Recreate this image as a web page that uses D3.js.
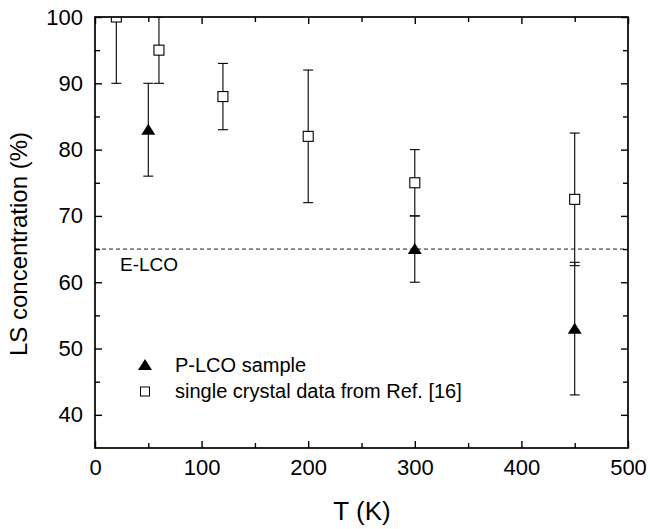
<!DOCTYPE html>
<html>
<head>
<meta charset="utf-8">
<script src="https://cdn.jsdelivr.net/npm/d3@7"></script>
<style>
  body { margin: 0; background: #fff; }
  svg text { font-family: "Liberation Sans", Arial, sans-serif; fill: #000; }
  .tick text { font-size: 22px; font-family: "Liberation Sans", Arial, sans-serif; }
</style>
</head>
<body>
<svg id="chart"></svg>
<script>
// P-LCO sample (filled triangles)
const plcoT = [50, 300, 450];
const plcoLS = [83, 65, 53];
const plcoLo = [76, 60, 43];
const plcoHi = [90, 70, 63];

// single crystal data from Ref. [16] (open squares)
const crystalT = [20, 60, 120, 200, 300, 450];
const crystalLS = [100, 95, 88, 82, 75, 72.5];
const crystalLo = [90, 90, 83, 72, 70, 62.5];
const crystalHi = [110, 100, 93, 92, 80, 82.5];

const elcoLevel = 65;
const xTicks = [0, 100, 200, 300, 400, 500];
const yTicks = [40, 50, 60, 70, 80, 90, 100];

const width = 650, height = 529;
const margin = { top: 17, right: 22, bottom: 81, left: 95 };
const innerW = width - margin.left - margin.right;
const innerH = height - margin.top - margin.bottom;

const svg = d3.select("#chart").attr("width", width).attr("height", height);
const g = svg.append("g").attr("transform", `translate(${margin.left},${margin.top})`);

const x = d3.scaleLinear().domain([0, 500]).range([0, innerW]);
const y = d3.scaleLinear().domain([35, 100]).range([innerH, 0]);

svg.append("defs").append("clipPath").attr("id", "plot")
  .append("rect").attr("width", innerW).attr("height", innerH);

// minor ticks
const xMinor = d3.range(50, 500, 100);
const yMinor = d3.range(45, 100, 10);

function axisStyle(sel) {
  sel.select(".domain").remove();
  sel.selectAll(".tick line").attr("stroke", "#000").attr("stroke-width", 1.4);
}

// bottom
g.append("g").attr("transform", `translate(0,${innerH})`)
  .call(d3.axisBottom(x).tickValues(xTicks).tickSizeInner(-7).tickSizeOuter(0).tickPadding(11))
  .call(axisStyle);
g.append("g").attr("transform", `translate(0,${innerH})`)
  .call(d3.axisBottom(x).tickValues(xMinor).tickSize(-5).tickFormat(""))
  .call(axisStyle);
// top
g.append("g")
  .call(d3.axisTop(x).tickValues(xTicks).tickSize(-7).tickFormat(""))
  .call(axisStyle);
g.append("g")
  .call(d3.axisTop(x).tickValues(xMinor).tickSize(-5).tickFormat(""))
  .call(axisStyle);
// left
g.append("g")
  .call(d3.axisLeft(y).tickValues(yTicks).tickSizeInner(-7).tickSizeOuter(0).tickPadding(12))
  .call(axisStyle);
g.append("g")
  .call(d3.axisLeft(y).tickValues(yMinor).tickSize(-5).tickFormat(""))
  .call(axisStyle);
// right
g.append("g").attr("transform", `translate(${innerW},0)`)
  .call(d3.axisRight(y).tickValues(yTicks).tickSize(-7).tickFormat(""))
  .call(axisStyle);
g.append("g").attr("transform", `translate(${innerW},0)`)
  .call(d3.axisRight(y).tickValues(yMinor).tickSize(-5).tickFormat(""))
  .call(axisStyle);

// E-LCO dashed reference line
g.append("line")
  .attr("x1", 0).attr("x2", innerW)
  .attr("y1", y(elcoLevel)).attr("y2", y(elcoLevel))
  .attr("stroke", "#000").attr("stroke-width", 0.9)
  .attr("stroke-dasharray", "4,3");
g.append("text")
  .attr("x", x(23.5)).attr("y", y(elcoLevel) + 22)
  .attr("font-size", 19)
  .text("E-LCO");

const marks = g.append("g").attr("clip-path", "url(#plot)");

// error bars
function errorBars(tv, lo, hi) {
  const cap = 5;
  const eg = marks.append("g").attr("stroke", "#000").attr("stroke-width", 1.1);
  tv.forEach((t, i) => {
    const cx = x(t);
    eg.append("line").attr("x1", cx).attr("x2", cx).attr("y1", y(lo[i])).attr("y2", y(hi[i]));
    [lo[i], hi[i]].forEach(v => {
      eg.append("line").attr("x1", cx - cap).attr("x2", cx + cap).attr("y1", y(v)).attr("y2", y(v));
    });
  });
}
errorBars(crystalT, crystalLo, crystalHi);
errorBars(plcoT, plcoLo, plcoHi);

// squares
const sq = 10;
marks.selectAll(".sq")
  .data(crystalT.map((t, i) => ({ t, v: crystalLS[i] })))
  .enter().append("rect")
  .attr("class", "sq")
  .attr("x", d => x(d.t) - sq / 2)
  .attr("y", d => y(d.v) - sq / 2)
  .attr("width", sq).attr("height", sq)
  .attr("fill", "#fff").attr("stroke", "#000").attr("stroke-width", 1.1);

// triangles
const triPath = "M0,-6L7,5L-7,5Z";
marks.selectAll(".tri")
  .data(plcoT.map((t, i) => ({ t, v: plcoLS[i] })))
  .enter().append("path")
  .attr("class", "tri")
  .attr("d", triPath)
  .attr("transform", d => `translate(${x(d.t)},${y(d.v)})`)
  .attr("fill", "#000");

// frame
g.append("rect")
  .attr("width", innerW).attr("height", innerH)
  .attr("fill", "none").attr("stroke", "#000").attr("stroke-width", 1.7);

// legend
const lg = svg.append("g").attr("transform", "translate(145,365)");
lg.append("path").attr("d", triPath).attr("fill", "#000");
lg.append("text").attr("x", 30).attr("y", 7).attr("font-size", 20).text("P-LCO sample");
lg.append("rect").attr("x", -4.5).attr("y", 22).attr("width", 9).attr("height", 9)
  .attr("fill", "#fff").attr("stroke", "#000").attr("stroke-width", 1);
lg.append("text").attr("x", 30).attr("y", 33).attr("font-size", 20).text("single crystal data from Ref. [16]");

// axis titles
svg.append("text")
  .attr("x", 362).attr("y", 520)
  .attr("text-anchor", "middle").attr("font-size", 26)
  .text("T (K)");
svg.append("text")
  .attr("transform", "translate(27,244) rotate(-90)")
  .attr("text-anchor", "middle").attr("font-size", 24)
  .text("LS concentration (%)");
</script>
</body>
</html>
